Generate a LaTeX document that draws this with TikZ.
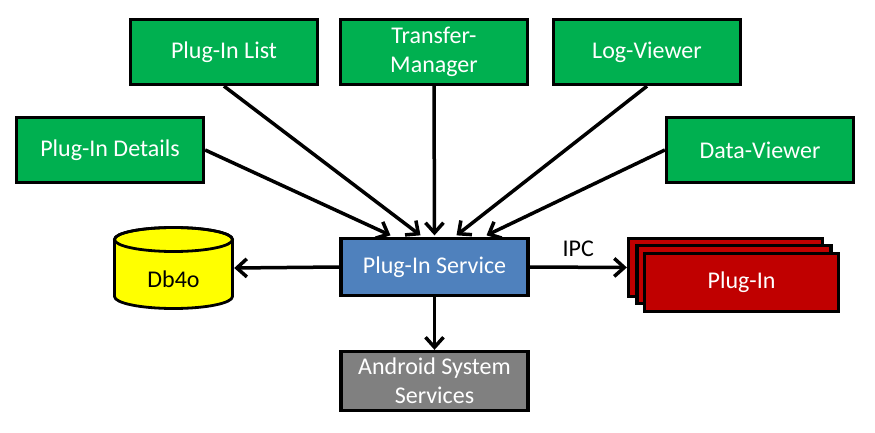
\documentclass[tikz,border=0pt]{standalone}
\usepackage{fontspec}
\setmainfont{Carlito}
\usetikzlibrary{arrows.meta,calc}
\definecolor{boxgreen}{HTML}{00B050}
\definecolor{boxblue}{HTML}{4F81BD}
\definecolor{boxred}{HTML}{C00000}
\definecolor{boxgray}{HTML}{808080}
\definecolor{dbyellow}{HTML}{FFFF00}
\begin{document}
\begin{tikzpicture}[x=1pt,y=-1pt,
  box/.style={draw=black, line width=3.3pt, minimum width=187pt, minimum height=65pt,
    inner sep=0pt, text=white, font=\fontsize{24}{29}\selectfont, align=center},
  greenbox/.style={box, fill=boxgreen},
  redbox/.style={box, fill=boxred, minimum width=194pt, minimum height=58pt},
  conn/.style={line width=3.5pt, -{Straight Barb[length=10pt,width=18pt]}}]
\useasboundingbox (0,0) rectangle (875,433);

% top boxes
\node[greenbox] (list) at (224,52) {Plug-In List};
\node[greenbox] (transfer) at (434,52) {Transfer-\\Manager};
\node[greenbox] (log) at (647,52) {Log-Viewer};
\node[greenbox] (details) at (110,150) {Plug-In Details};
\node[greenbox] (data) at (760,150) {Data-Viewer};

% service
\node[box, fill=boxblue, minimum height=57pt] (svc) at (434.5,267) {Plug-In Service};
\node[box, fill=boxgray, minimum height=59pt] (android) at (434.5,381) {Android System\\Services};

% plug-in stack
\node[redbox] (pb) at (725.5,267.5) {};
\node[redbox] (pm) at (734,274.5) {};
\node[redbox] (plugin) at (741.5,282.5) {Plug-In};

% Db4o cylinder
\path[fill=dbyellow, draw=black, line width=2.8pt]
  (114.5,239.5) -- (114.5,296.5) arc (180:0:59 and 12) -- (232.5,239.5) arc (0:-180:59 and 12) -- cycle;
\draw[line width=2.8pt] (173.5,239.5) ellipse (59 and 12);
\node[minimum width=121pt, minimum height=60pt, inner sep=0pt, text height=38pt, text depth=0pt,
  font=\fontsize{24}{29}\selectfont] (db) at (173.5,268) {Db4o};

% connectors
\draw[conn] (details.east) -- ($(svc.north)+(-44,-1.5)$);
\draw[conn] (list.south) -- ($(svc.north)+(-14,-1.5)$);
\draw[conn] (transfer.south) -- ($(svc.north)+(0,-1.5)$);
\draw[conn] (log.south) -- ($(svc.north)+(22,-1.5)$);
\draw[conn] (data.west) -- ($(svc.north)+(52,-1.5)$);
\draw[conn] (svc.west) -- (db.east);
\draw[conn] (svc.south) -- (android.north);
\draw[conn] (svc.east) -- node[midway, yshift=18pt, font=\fontsize{24}{29}\selectfont] (ipc) {IPC} (pb.west);
\end{tikzpicture}
\end{document}
